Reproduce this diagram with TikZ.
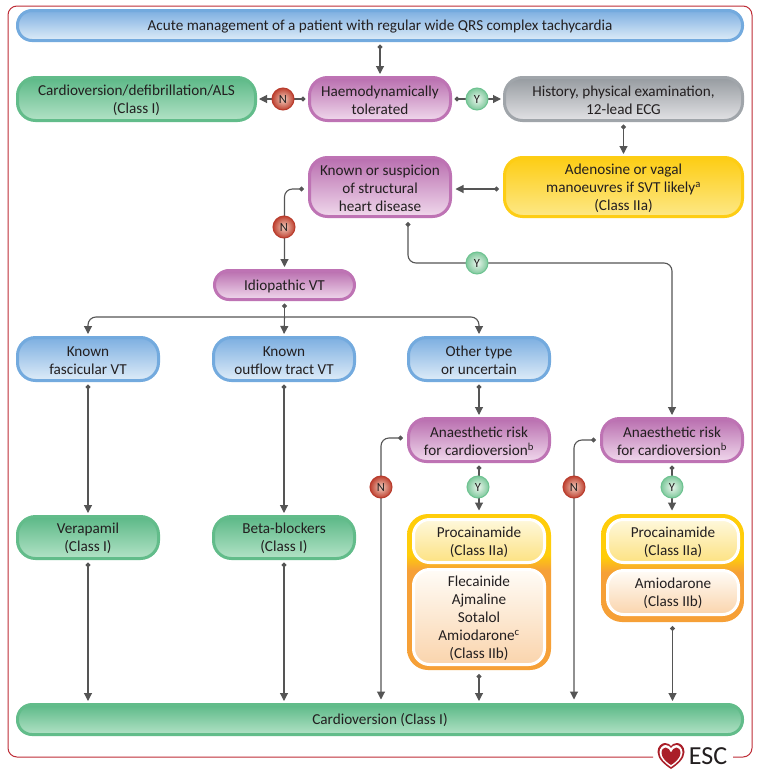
\documentclass[tikz,border=0pt]{standalone}
\usepackage{fontspec}
\setmainfont{Carlito}
\usetikzlibrary{arrows.meta,calc,shadings}
\definecolor{ink}{RGB}{35,31,32}
\definecolor{conn}{RGB}{85,85,85}
\definecolor{framered}{RGB}{190,45,55}
\definecolor{oT}{RGB}{255,205,10}
\definecolor{oB}{RGB}{246,160,55}
\definecolor{logored}{RGB}{170,30,40}
\pgfdeclareverticalshading{orangeA}{100bp}{
 color(0bp)=(oB);
 color(25bp)=(oB);
 color(57bp)=(oB);
 color(62bp)=(oT);
 color(75bp)=(oT);
 color(100bp)=(oT)}
\pgfdeclareverticalshading{orangeB}{100bp}{
 color(0bp)=(oB);
 color(25bp)=(oB);
 color(48bp)=(oB);
 color(55bp)=(oT);
 color(75bp)=(oT);
 color(100bp)=(oT)}
\tikzset{
 x=1pt,y=-1pt,
 box/.style={rectangle,rounded corners=18pt,line width=3pt,align=center,inner sep=0pt,outer sep=0pt,
   text=ink,font=\fontsize{15.2}{18}\selectfont},
 thin box/.style={rounded corners=14.5pt},
 bluebox/.style={box,draw={rgb,255:red,115;green,170;blue,222},top color={rgb,255:red,125;green,175;blue,225},bottom color={rgb,255:red,222;green,236;blue,248}},
 greenbox/.style={box,draw={rgb,255:red,98;green,188;blue,138},top color={rgb,255:red,92;green,185;blue,135},bottom color={rgb,255:red,178;green,226;blue,198}},
 purplebox/.style={box,draw={rgb,255:red,190;green,115;blue,180},top color={rgb,255:red,185;green,110;blue,175},bottom color={rgb,255:red,240;green,216;blue,236}},
 graybox/.style={box,draw={rgb,255:red,160;green,165;blue,170},top color={rgb,255:red,150;green,155;blue,160},bottom color={rgb,255:red,226;green,226;blue,229}},
 yellowbox/.style={box,draw={rgb,255:red,253;green,205;blue,20},top color={rgb,255:red,253;green,205;blue,20},bottom color={rgb,255:red,253;green,232;blue,135}},
 containerA/.style={box,draw=none,rounded corners=21pt,shading=orangeA},
 containerB/.style={box,draw=none,rounded corners=21pt,shading=orangeB},
 innerY/.style={box,draw=white,rounded corners=16pt,top color={rgb,255:red,254;green,248;blue,220},bottom color={rgb,255:red,253;green,226;blue,130}},
 innerO/.style={box,draw=white,rounded corners=16pt,top color={rgb,255:red,255;green,252;blue,247},bottom color={rgb,255:red,250;green,212;blue,172}},
 conn/.style={draw=conn,line width=1.1pt,{Circle[length=5pt,width=5pt]}-{Triangle[length=8pt,width=8pt]},shorten <=4pt,shorten >=3.5pt,rounded corners=8pt},
 trunk/.style={draw=conn,line width=1.1pt,{Circle[length=5pt,width=5pt]}-,shorten <=4pt},
 branch/.style={draw=conn,line width=1.1pt,-{Triangle[length=8pt,width=8pt]},shorten >=3.5pt,rounded corners=8pt},
 ball/.style={circle,minimum size=22pt,inner sep=0pt,outer sep=0pt,text=ink,font=\fontsize{12.5}{12.5}\selectfont},
 nball/.style={ball,draw={rgb,255:red,185;green,60;blue,45},line width=1pt,inner color={rgb,255:red,242;green,205;blue,190},outer color={rgb,255:red,190;green,65;blue,48}},
 yball/.style={ball,draw={rgb,255:red,110;green,195;blue,145},line width=1pt,inner color={rgb,255:red,236;green,246;blue,238},outer color={rgb,255:red,125;green,200;blue,155}},
}
% style, name, x1, y1, x2, y2, text : outer edges of the box
\newcommand{\bx}[7]{%
 \pgfmathsetmacro{\bw}{#5-#3-3}\pgfmathsetmacro{\bh}{#6-#4-3}%
 \pgfmathsetmacro{\bcx}{(#3+#5)/2}\pgfmathsetmacro{\bcy}{(#4+#6)/2}%
 \node[#1,minimum width=\bw pt,minimum height=\bh pt] (#2) at (\bcx,\bcy) {\rule{0pt}{13pt}#7};}
\newcommand{\sps}[1]{\textsuperscript{#1}}
\begin{document}
\begin{tikzpicture}
\useasboundingbox (0,0) rectangle (761,774);
\fill[white] (0,0) rectangle (761,774);
% frame
\draw[framered,line width=1pt,rounded corners=9pt] (653,757) -- (8,757) -- (8,6) -- (752,6) -- (752,757) -- (733,757);
% containers (undrawn, so 3 wider than their visible extent in the macro's terms)
\bx{containerA}{contA}{405.5}{512.5}{552.5}{671.5}{}
\bx{containerB}{contB}{599.5}{512.5}{745.5}{623.5}{}
% boxes
\bx{bluebox,thin box}{top}{16}{9}{744}{42}{Acute management of a patient with regular wide QRS complex tachycardia}
\bx{greenbox}{cardio}{16}{76}{257}{122}{Cardioversion/defibrillation/ALS\\(Class I)}
\bx{purplebox}{haemo}{308}{76}{452}{122}{Haemodynamically\\tolerated}
\bx{graybox}{hist}{503}{76}{744}{122}{History, physical examination,\\12-lead ECG}
\bx{purplebox}{known}{308}{156}{452}{218}{Known or suspicion\\of structural\\heart disease}
\bx{yellowbox}{aden}{503}{156}{744}{218}{Adenosine or vagal\\manoeuvres if SVT likely\sps{a}\\(Class IIa)}
\bx{purplebox,thin box}{idio}{213}{269}{356}{301}{Idiopathic VT}
\bx{bluebox}{fasc}{16}{336}{160}{382}{Known\\fascicular VT}
\bx{bluebox}{outflow}{212}{336}{356}{382}{Known\\outflow tract VT}
\bx{bluebox}{other}{407}{336}{551}{382}{Other type\\or uncertain}
\bx{purplebox}{anaA}{407}{417}{551}{463}{Anaesthetic risk\\for cardioversion\sps{b}}
\bx{purplebox}{anaB}{600}{417}{744}{463}{Anaesthetic risk\\for cardioversion\sps{b}}
\bx{greenbox}{vera}{16}{515}{160}{560}{Verapamil\\(Class I)}
\bx{greenbox}{beta}{212}{515}{356}{560}{Beta-blockers\\(Class I)}
\bx{innerY}{procA}{412}{518}{546}{564}{Procainamide\\(Class IIa)}
\bx{innerO}{flec}{412}{568}{546}{666}{Flecainide\\Ajmaline\\Sotalol\\Amiodarone\sps{c}\\(Class IIb)}
\bx{innerY}{procB}{606}{518}{740}{564}{Procainamide\\(Class IIa)}
\bx{innerO}{amio}{606}{569}{740}{616}{Amiodarone\\(Class IIb)}
\bx{greenbox,thin box}{bottom}{16}{703}{744}{736}{Cardioversion (Class I)}
% helper coordinates
\coordinate (knownS) at (408,218);
\coordinate (knownW) at (308,189);
\coordinate (knownE) at (452,189);
\coordinate (adenW) at (503,189);
\coordinate (anaAW) at (407,438);
\coordinate (anaBW) at (600,440);
\coordinate (hub) at (284.5,317);
% connectors
\draw[conn] (top.south -| haemo.north) -- (haemo.north);
\draw[conn] (haemo.west) -- (cardio.east);
\draw[conn] (haemo.east) -- (hist.west);
\draw[conn] (hist.south) -- (aden.north);
\draw[conn] (adenW) -- (knownE);
\draw[conn] (knownW) -| (idio.north);
\draw[conn] (knownS) |- (480,263) -| (anaB.north);
\draw[trunk] (idio.south) -- (hub);
\draw[branch] (hub) -| (fasc.north);
\draw[branch] (hub) -- (outflow.north);
\draw[branch] (hub) -| (other.north);
\draw[conn] (fasc.south) -- (vera.north);
\draw[conn] (outflow.south) -- (beta.north);
\draw[conn] (other.south) -- (anaA.north);
\draw[conn] (anaA.south) -- (contA.north);
\draw[conn] (anaB.south) -- (contB.north -| anaB.south);
\draw[conn] (anaAW) -| (381,703);
\draw[conn] (anaBW) -| (574,703);
\draw[conn] (vera.south) -- (vera.south |- bottom.north);
\draw[conn] (beta.south) -- (beta.south |- bottom.north);
\draw[conn] (contA.south) -- (contA.south |- bottom.north);
\draw[conn] (contB.south) -- (contB.south |- bottom.north);
% Y / N balls
\node[nball] (n1) at (283,99) {N};
\node[yball] (y1) at (477,99) {Y};
\node[nball] (n2) at (284,227) {N};
\node[yball] (y2) at (477,263) {Y};
\node[nball] (n3) at (381,487) {N};
\node[yball] (y3) at (478,487) {Y};
\node[nball] (n4) at (574,487) {N};
\node[yball] (y4) at (672,487) {Y};
% ESC logo
\begin{scope}[shift={(671,756)}]
\fill[logored] (0,13) .. controls (-6,9) and (-13.5,3) .. (-13.5,-4) .. controls (-13.5,-10) and (-9,-13) .. (-6,-13) .. controls (-3,-13) and (-1,-11.5) .. (0,-10) .. controls (1,-11.5) and (3,-13) .. (6,-13) .. controls (9,-13) and (13.5,-10) .. (13.5,-4) .. controls (13.5,3) and (6,9) .. (0,13) -- cycle;
\fill[white] (0,11) .. controls (-5,7.5) and (-11.5,2.5) .. (-11.5,-3.5) .. controls (-11.5,-8) and (-8,-11) .. (-5.5,-11) .. controls (-3,-11) and (-1,-9.5) .. (0,-8) .. controls (1,-9.5) and (3,-11) .. (5.5,-11) .. controls (8,-11) and (11.5,-8) .. (11.5,-3.5) .. controls (11.5,2.5) and (5,7.5) .. (0,11) -- cycle;
\fill[logored] (0,9) .. controls (-4,6.5) and (-9.5,2) .. (-9.5,-3) .. controls (-9.5,-6.5) and (-7.5,-8.5) .. (-5.5,-8.5) .. controls (-3,-8.5) and (-1,-6) .. (0,-3.5) .. controls (1,-6) and (3,-8.5) .. (5.5,-8.5) .. controls (7.5,-8.5) and (9.5,-6.5) .. (9.5,-3) .. controls (9.5,2) and (4,6.5) .. (0,9) -- cycle;
\end{scope}
\node[inner sep=0pt,text=ink,font=\fontsize{26}{26}\selectfont] (esc) at (708,756.5) {ESC};
\end{tikzpicture}
\end{document}
